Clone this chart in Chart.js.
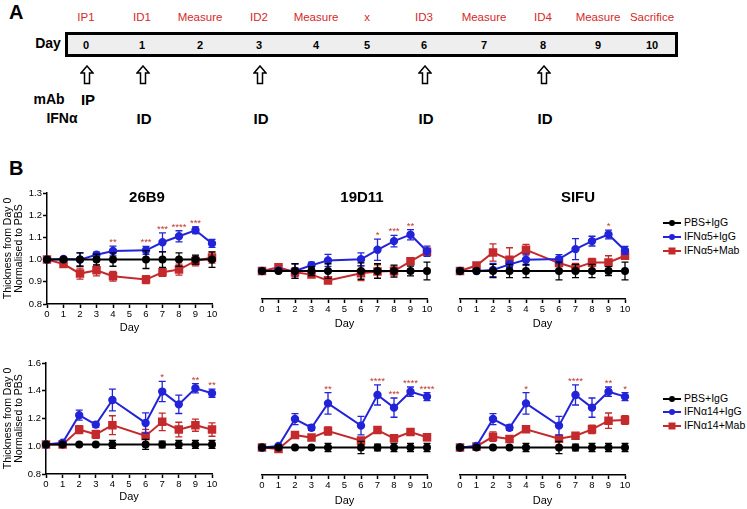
<!DOCTYPE html>
<html>
<head>
<meta charset="utf-8">
<script src="https://cdn.jsdelivr.net/npm/chart.js@4"></script>
<style>
  body { margin: 0; background: #fff; }
  #page { position: relative; width: 747px; height: 509px; overflow: hidden; font-family: "Liberation Sans", Arial, sans-serif; color: #000; }
  .t { position: absolute; white-space: nowrap; line-height: 1; }
  .c { transform: translate(-50%, -50%); }
  .red { color: #d42a2a; font-size: 11.5px; }
  .num { font-weight: bold; font-size: 11px; }
  .big { font-weight: bold; font-size: 15px; }
  .lab { font-weight: bold; font-size: 14px; }
  .ttl { font-weight: bold; font-size: 15px; }
  .leg { font-size: 10.5px; }
  canvas { position: absolute; }
  #box { position: absolute; left: 65px; top: 32px; width: 613px; height: 25px; border: 3px solid #000; background: #eeeeee; box-sizing: border-box; }
</style>
</head>
<body>
<div id="page">
  <div class="t" style="left:9px;top:2px;font-weight:bold;font-size:20px">A</div>
  <div class="t" style="left:9px;top:158px;font-weight:bold;font-size:20px">B</div>
  <div id="box"></div>
  <div class="t lab c" style="left:48px;top:43px">Day</div>
  <div class="t lab c" style="left:49px;top:99px">mAb</div>
  <div class="t lab c" style="left:62px;top:118px">IFNα</div>
  <div class="t big c" style="left:88px;top:99px">IP</div>
  <canvas id="c1" width="225" height="157"></canvas>
  <canvas id="c2" width="185" height="152"></canvas>
  <canvas id="c3" width="185" height="152"></canvas>
  <canvas id="c4" width="225" height="156"></canvas>
  <canvas id="c5" width="185" height="154"></canvas>
  <canvas id="c6" width="185" height="154"></canvas>
  <div class="t ttl c" style="left:147px;top:196px">26B9</div>
  <div class="t ttl c" style="left:362px;top:196px">19D11</div>
  <div class="t ttl c" style="left:578px;top:196px">SIFU</div>
</div>
<script>
// schematic (panel A)
const schemeDays = ["0", "1", "2", "3", "4", "5", "6", "7", "8", "9", "10"]
const schemeEvents = ["IP1", "ID1", "Measure", "ID2", "Measure", "x", "ID3", "Measure", "ID4", "Measure", "Sacrifice"]
const schemeX = [86, 142, 200, 259, 316, 367, 424, 484, 543, 598, 652]
const injectDays = ["1", "3", "6", "8"]

// panel B, days measured
const days = [0, 1, 2, 3, 4, 6, 7, 8, 9, 10]

// IFNα5 row
const pbs26B9 = [1, 1, 1, 1, 1, 1, 1, 1, 1, 1]
const pbs26B9Err = [0, 0, 0.03, 0.025, 0.03, 0.04, 0.035, 0.03, 0.02, 0.035]
const igg26B9 = [1.0, 1.003, 1.0, 1.022, 1.039, 1.042, 1.078, 1.105, 1.132, 1.073]
const igg26B9Err = [0, 0.005, 0.03, 0.012, 0.022, 0.018, 0.042, 0.025, 0.015, 0.018]
const mab26B9 = [1.0, 0.98, 0.937, 0.952, 0.925, 0.91, 0.943, 0.955, 0.994, 1.009]
const mab26B9Err = [0, 0.005, 0.025, 0.025, 0.022, 0.018, 0.018, 0.025, 0.022, 0.025]
const stars26B9 = ["", "", "", "", "**", "***", "***", "****", "***", ""]

const pbs19D11 = [1, 1, 1, 1, 1, 1, 1, 1, 1, 1]
const pbs19D11Err = [0, 0, 0.033, 0.02, 0.033, 0.037, 0.033, 0.027, 0.022, 0.04]
const igg19D11 = [1.0, 1.003, 1.0, 1.026, 1.048, 1.053, 1.096, 1.135, 1.164, 1.089]
const igg19D11Err = [0, 0, 0.033, 0.014, 0.027, 0.029, 0.048, 0.026, 0.023, 0.023]
const mab19D11 = [1.0, 1.017, 0.995, 0.984, 0.958, 0.99, 0.998, 1.0, 1.044, 1.087]
const mab19D11Err = [0, 0.003, 0.02, 0.01, 0.006, 0.033, 0.03, 0.022, 0.012, 0.015]
const stars19D11 = ["", "", "", "", "", "", "*", "***", "**", ""]

const pbsSIFU = [1, 1, 1, 1, 1, 1, 1, 1, 1, 1]
const pbsSIFUErr = [0, 0, 0.03, 0.03, 0.03, 0.04, 0.03, 0.03, 0.02, 0.04]
const iggSIFU = [1.0, 1.0, 1.005, 1.03, 1.051, 1.054, 1.099, 1.135, 1.165, 1.093]
const iggSIFUErr = [0, 0, 0.03, 0.015, 0.025, 0.02, 0.047, 0.022, 0.02, 0.018]
const mabSIFU = [1.0, 1.025, 1.084, 1.051, 1.096, 1.036, 1.014, 1.039, 1.039, 1.069]
const mabSIFUErr = [0, 0.003, 0.039, 0.054, 0.024, 0.012, 0.02, 0.018, 0.03, 0.015]
const starsSIFU = ["", "", "", "", "", "", "", "", "*", ""]

// IFNα14 row
const pbs26B9_14 = [1.013, 1.013, 1.013, 1.013, 1.013, 1.013, 1.013, 1.013, 1.013, 1.013]
const pbs26B9_14Err = [0.003, 0.003, 0.004, 0.004, 0.029, 0.036, 0.024, 0.029, 0.029, 0.029]
const igg26B9_14 = [1.013, 1.025, 1.224, 1.156, 1.333, 1.168, 1.394, 1.302, 1.418, 1.382]
const igg26B9_14Err = [0, 0.005, 0.036, 0.02, 0.078, 0.073, 0.073, 0.066, 0.034, 0.029]
const mab26B9_14 = [1.013, 1.013, 1.12, 1.086, 1.152, 1.074, 1.176, 1.12, 1.152, 1.12]
const mab26B9_14Err = [0, 0.004, 0.029, 0.029, 0.068, 0.048, 0.063, 0.053, 0.044, 0.048]
const stars26B9_14 = ["", "", "", "", "", "", "*", "", "**", "**"]

const pbs19D11_14 = [1, 1, 1, 1, 1, 1, 1, 1, 1, 1]
const pbs19D11_14Err = [0, 0.003, 0.003, 0.003, 0.03, 0.044, 0.024, 0.03, 0.03, 0.03]
const igg19D11_14 = [1.0, 1.011, 1.207, 1.144, 1.321, 1.159, 1.382, 1.29, 1.406, 1.37]
const igg19D11_14Err = [0, 0.004, 0.04, 0.02, 0.078, 0.067, 0.073, 0.07, 0.034, 0.029]
const mab19D11_14 = [1.0, 0.989, 1.091, 1.072, 1.12, 1.05, 1.127, 1.067, 1.113, 1.074]
const mab19D11_14Err = [0, 0.004, 0.02, 0.02, 0.03, 0.02, 0.024, 0.02, 0.012, 0.024]
const stars19D11_14 = ["", "", "", "", "**", "", "****", "***", "****", "****"]

const pbsSIFU_14 = [1, 1, 1, 1, 1, 1, 1, 1, 1, 1]
const pbsSIFU_14Err = [0, 0.003, 0.003, 0.003, 0.03, 0.044, 0.024, 0.03, 0.03, 0.03]
const iggSIFU_14 = [1.0, 1.011, 1.207, 1.144, 1.321, 1.159, 1.382, 1.29, 1.406, 1.37]
const iggSIFU_14Err = [0, 0.004, 0.04, 0.02, 0.078, 0.067, 0.073, 0.07, 0.034, 0.029]
const mabSIFU_14 = [1.0, 1.008, 1.079, 1.062, 1.132, 1.064, 1.086, 1.132, 1.195, 1.2]
const mabSIFU_14Err = [0, 0.004, 0.034, 0.02, 0.02, 0.02, 0.02, 0.03, 0.056, 0.032]
const starsSIFU_14 = ["", "", "", "", "*", "", "****", "", "**", "*"]

const legendTop = ["PBS+IgG", "IFNα5+IgG", "IFNα5+Mab"]
const legendBottom = ["PBS+IgG", "IFNα14+IgG", "IFNα14+Mab"]

const BLUE = "#2323d8"
const RED = "#c42a2c"
const BLACK = "#000"
const STAR = "#c0392f"
const FONT = "'Liberation Sans', Arial, sans-serif"

// ---------- panel A ----------
const page = document.getElementById("page")
function addText(cls, x, y, txt) {
  const d = document.createElement("div")
  d.className = "t c " + cls
  d.style.left = x + "px"
  d.style.top = y + "px"
  d.textContent = txt
  page.appendChild(d)
}
schemeDays.forEach((d, i) => {
  addText("red", schemeX[i], 18, schemeEvents[i])
  addText("num", schemeX[i], 45, d)
})
const arrowDays = ["0"].concat(injectDays)
arrowDays.forEach(d => {
  const x = schemeX[schemeDays.indexOf(d)] + 1
  const s = document.createElementNS("http://www.w3.org/2000/svg", "svg")
  s.setAttribute("width", "14")
  s.setAttribute("height", "20")
  s.style.position = "absolute"
  s.style.left = (x - 7) + "px"
  s.style.top = "65px"
  s.innerHTML = '<polygon points="7,1 13,8 9.5,8 9.5,18.5 4.5,18.5 4.5,8 1,8" fill="#fff" stroke="#000" stroke-width="1.5" stroke-linejoin="miter"/>'
  page.appendChild(s)
})
injectDays.forEach(d => addText("big", schemeX[schemeDays.indexOf(d)] + 2, 118, "ID"))

// ---------- legends ----------
function legend(labels, tops) {
  const styles = [[BLACK, "circle"], [BLUE, "circle"], [RED, "rect"]]
  labels.forEach((lab, i) => {
    const [col, shape] = styles[i]
    const s = document.createElementNS("http://www.w3.org/2000/svg", "svg")
    s.setAttribute("width", "20")
    s.setAttribute("height", "10")
    s.style.position = "absolute"
    s.style.left = "662px"
    s.style.top = (tops[i] - 5) + "px"
    const mark = shape === "circle"
      ? `<circle cx="10" cy="5" r="3" fill="${col}"/>`
      : `<rect x="6.5" y="1.5" width="7" height="7" fill="${col}"/>`
    s.innerHTML = `<line x1="1" y1="5" x2="19" y2="5" stroke="${col}" stroke-width="2"/>` + mark
    page.appendChild(s)
    const d = document.createElement("div")
    d.className = "t leg"
    d.style.left = "684px"
    d.style.top = (tops[i] - 6) + "px"
    d.textContent = lab
    page.appendChild(d)
  })
}
legend(legendTop, [223, 237, 251])
legend(legendBottom, [399, 412, 426])

// ---------- plugins ----------
const errorBars = {
  id: "errorBars",
  afterDatasetDraw(chart, args) {
    const ds = chart.data.datasets[args.index]
    if (!ds.errors) return
    const ctx = chart.ctx
    const xs = chart.scales.x, ys = chart.scales.y
    ctx.save()
    ctx.strokeStyle = ds.borderColor
    ctx.lineWidth = 1.3
    ds.data.forEach((p, i) => {
      const e = ds.errors[i]
      if (!e) return
      const px = xs.getPixelForValue(p.x)
      const top = ys.getPixelForValue(p.y + e)
      const bot = ys.getPixelForValue(p.y - e)
      ctx.beginPath()
      ctx.moveTo(px, top); ctx.lineTo(px, bot)
      ctx.moveTo(px - 3.5, top); ctx.lineTo(px + 3.5, top)
      ctx.moveTo(px - 3.5, bot); ctx.lineTo(px + 3.5, bot)
      ctx.stroke()
    })
    ctx.restore()
  }
}

const starMarks = {
  id: "starMarks",
  afterDatasetsDraw(chart) {
    const ctx = chart.ctx
    const xs = chart.scales.x, ys = chart.scales.y
    chart.data.datasets.forEach(ds => {
      if (!ds.stars) return
      ctx.save()
      ctx.fillStyle = STAR
      ctx.font = "9.5px " + FONT
      ctx.textAlign = "center"
      ctx.textBaseline = "alphabetic"
      ds.data.forEach((p, i) => {
        if (!ds.stars[i]) return
        const px = xs.getPixelForValue(p.x)
        const top = ys.getPixelForValue(p.y + (ds.errors[i] || 0))
        ctx.fillText(ds.stars[i], px, top - 1)
      })
      ctx.restore()
    })
  }
}

// ---------- panel B charts ----------
function pts(vals) {
  return days.map((d, i) => ({ x: d, y: vals[i] }))
}

function series(label, vals, errs, color, shape, radius, stars) {
  return {
    label: label,
    data: pts(vals),
    errors: errs,
    stars: stars,
    borderColor: color,
    backgroundColor: color,
    pointBackgroundColor: color,
    pointBorderColor: color,
    pointStyle: shape,
    pointRadius: radius,
    borderWidth: 2,
    tension: 0,
    clip: false
  }
}

function makeChart(id, pos, sets, labels, yOpts) {
  const cv = document.getElementById(id)
  cv.style.left = pos.left + "px"
  cv.style.top = pos.top + "px"
  const axisLine = { display: true, color: "#000", width: 1.5 }
  new Chart(cv, {
    type: "line",
    data: {
      datasets: [
        series(labels[0], sets[0], sets[1], BLACK, "circle", 3, null),
        series(labels[1], sets[2], sets[3], BLUE, "circle", 3.2, sets[6]),
        series(labels[2], sets[4], sets[5], RED, "rect", 4.6, null)
      ]
    },
    options: {
      responsive: false,
      animation: false,
      events: [],
      layout: { padding: pos.pad },
      plugins: { legend: { display: false }, tooltip: { enabled: false } },
      scales: {
        x: {
          type: "linear",
          min: 0,
          max: 10,
          border: axisLine,
          grid: { display: true, drawOnChartArea: false, drawTicks: true, tickLength: 4, tickColor: "#000", tickWidth: 1.5 },
          ticks: { stepSize: 1, autoSkip: false, maxRotation: 0, padding: 1, color: "#000", font: { family: FONT, size: 9.5 } },
          title: { display: true, text: "Day", color: "#000", font: { family: FONT, size: 11 }, padding: { top: 0, bottom: pos.dayPad } },
          afterFit: s => { s.height = pos.xH }
        },
        y: yOpts
      }
    },
    plugins: [errorBars, starMarks]
  })
}

function shownY(min, max, step, w) {
  return {
    min: min,
    max: max,
    border: { display: true, color: "#000", width: 1.5 },
    grid: { display: true, drawOnChartArea: false, drawTicks: true, tickLength: 4, tickColor: "#000", tickWidth: 1.5 },
    ticks: { stepSize: step, padding: 1, color: "#000", font: { family: FONT, size: 9.5 }, callback: v => v.toFixed(1) },
    title: {
      display: true,
      text: ["Thickness from Day 0", "Normalised to PBS"],
      color: "#000",
      font: { family: FONT, size: 10.5, lineHeight: 1.0 },
      padding: { top: 3, bottom: 0 }
    },
    afterFit: s => { s.width = w }
  }
}
function hiddenY(min, max) {
  return { display: false, min: min, max: max }
}

makeChart("c1", { left: 0, top: 183, pad: { top: 10, right: 13, bottom: 0, left: 0 }, xH: 36, dayPad: 5 },
  [pbs26B9, pbs26B9Err, igg26B9, igg26B9Err, mab26B9, mab26B9Err, stars26B9], legendTop, shownY(0.8, 1.3, 0.1, 47))
makeChart("c2", { left: 252, top: 183, pad: { top: 10, right: 10, bottom: 0, left: 10 }, xH: 36, dayPad: 4 },
  [pbs19D11, pbs19D11Err, igg19D11, igg19D11Err, mab19D11, mab19D11Err, stars19D11], legendTop, hiddenY(0.874, 1.352))
makeChart("c3", { left: 450, top: 183, pad: { top: 10, right: 10, bottom: 0, left: 10 }, xH: 36, dayPad: 4 },
  [pbsSIFU, pbsSIFUErr, iggSIFU, iggSIFUErr, mabSIFU, mabSIFUErr, starsSIFU], legendTop, hiddenY(0.874, 1.352))
makeChart("c4", { left: 0, top: 353, pad: { top: 10, right: 13, bottom: 0, left: 0 }, xH: 35, dayPad: 5 },
  [pbs26B9_14, pbs26B9_14Err, igg26B9_14, igg26B9_14Err, mab26B9_14, mab26B9_14Err, stars26B9_14], legendBottom, shownY(0.8, 1.6, 0.2, 46))
makeChart("c5", { left: 252, top: 355, pad: { top: 10, right: 10, bottom: 0, left: 10 }, xH: 34, dayPad: 1.5 },
  [pbs19D11_14, pbs19D11_14Err, igg19D11_14, igg19D11_14Err, mab19D11_14, mab19D11_14Err, stars19D11_14], legendBottom, hiddenY(0.8, 1.6))
makeChart("c6", { left: 450, top: 355, pad: { top: 10, right: 10, bottom: 0, left: 10 }, xH: 34, dayPad: 1.5 },
  [pbsSIFU_14, pbsSIFU_14Err, iggSIFU_14, iggSIFU_14Err, mabSIFU_14, mabSIFU_14Err, starsSIFU_14], legendBottom, hiddenY(0.8, 1.6))
</script>
</body>
</html>
